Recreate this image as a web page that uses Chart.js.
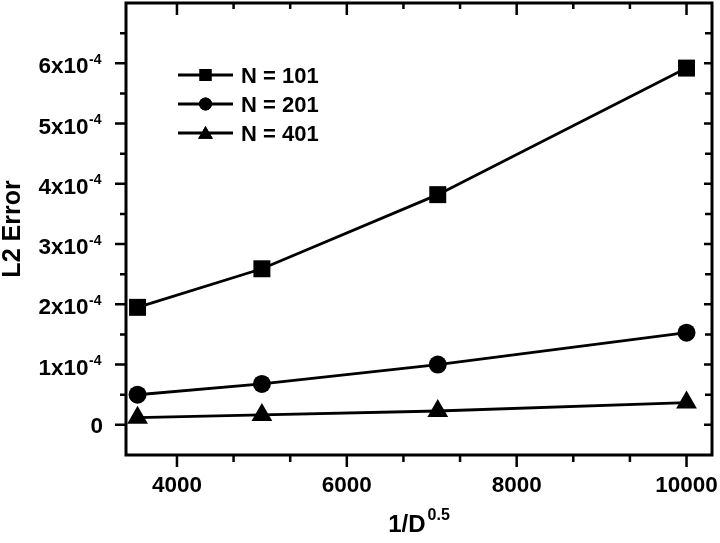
<!DOCTYPE html>
<html>
<head>
<meta charset="utf-8">
<script src="https://cdn.jsdelivr.net/npm/chart.js@4/dist/chart.umd.min.js"></script>
<style>
  html, body { margin: 0; padding: 0; background: #fff; }
  #wrap { width: 720px; height: 543px; }
</style>
</head>
<body>
<div id="wrap"><canvas id="err-chart" width="720" height="543"></canvas></div>
<script>
// 1/D^0.5 values (D = 8e-8, 4e-8, 2e-8, 1e-8)
var xValues = [3536, 5000, 7071, 10000];

// L2 error for each grid size
var seriesNames = ["N = 101", "N = 201", "N = 401"];
var errN101 = [1.95e-4, 2.59e-4, 3.82e-4, 5.92e-4];
var errN201 = [0.50e-4, 0.68e-4, 1.00e-4, 1.53e-4];
var errN401 = [0.12e-4, 0.165e-4, 0.23e-4, 0.37e-4];

// axis ticks
var xTickValues = [4000, 6000, 8000, 10000];
var yTickValues = [0, 1e-4, 2e-4, 3e-4, 4e-4, 5e-4, 6e-4];
var yTickBase = ["0", "1x10", "2x10", "3x10", "4x10", "5x10", "6x10"];
var yTickExp = ["", "-4", "-4", "-4", "-4", "-4", "-4"];

var FONT = '"Liberation Sans", Arial, Helvetica, sans-serif';

function pts(ys) {
  var out = [];
  for (var i = 0; i < xValues.length; i++) out.push({ x: xValues[i], y: ys[i] });
  return out;
}

var styles = [
  { shape: "rect", r: 12, lr: 8.5 },
  { shape: "circle", r: 9, lr: 6.5 },
  { shape: "triangle", r: 12, lr: 8.5 }
];

var allSeries = [errN101, errN201, errN401];
var datasets = [];
for (var s = 0; s < allSeries.length; s++) {
  datasets.push({
    label: seriesNames[s],
    data: pts(allSeries[s]),
    borderColor: "#000",
    backgroundColor: "#000",
    borderWidth: 2.8,
    pointStyle: styles[s].shape,
    pointRadius: styles[s].r,
    pointHoverRadius: styles[s].r,
    pointBorderWidth: 0,
    tension: 0,
    clip: false
  });
}

function marker(ctx, shape, r, x, y) {
  if (Chart.helpers && Chart.helpers.drawPoint) {
    Chart.helpers.drawPoint(ctx, { pointStyle: shape, radius: r, borderWidth: 0, rotation: 0 }, x, y);
    ctx.fill();
  }
}

function noPad(scale) {
  scale.paddingLeft = 0; scale.paddingRight = 0;
  scale.paddingTop = 0; scale.paddingBottom = 0;
}

// frame, tick marks, y labels, titles and legend
var decor = {
  id: "decor",
  beforeDatasetsDraw: function (chart) {
    var ctx = chart.ctx, a = chart.chartArea;
    var xs = chart.scales.x, ys = chart.scales.y;
    ctx.save();
    ctx.strokeStyle = "#000";
    ctx.lineWidth = 3;
    ctx.strokeRect(a.left, a.top, a.right - a.left, a.bottom - a.top);
    ctx.lineWidth = 2.5;
    ctx.beginPath();
    var v, p, k;
    // x ticks: major every 2000, two minors between
    for (k = 0; k <= 30; k++) {
      v = 2000 + k * 2000 / 3;
      if (v < xs.min || v > xs.max) continue;
      p = xs.getPixelForValue(v);
      var major = (k % 3 === 0);
      ctx.moveTo(p, a.bottom); ctx.lineTo(p, a.bottom + (major ? 12 : 7));
      ctx.moveTo(p, a.top); ctx.lineTo(p, a.top + (major ? 12 : 6));
    }
    // y ticks: major every 1e-4, one minor between
    for (k = -1; k <= 14; k++) {
      v = k * 0.5e-4;
      if (v <= ys.min || v >= ys.max) continue;
      p = ys.getPixelForValue(v);
      var maj = (k % 2 === 0);
      ctx.moveTo(a.left, p); ctx.lineTo(a.left - (maj ? 11 : 6), p);
      ctx.moveTo(a.right, p); ctx.lineTo(a.right - (maj ? 8 : 7), p);
    }
    ctx.stroke();

    // y tick labels with superscript
    ctx.fillStyle = "#000";
    ctx.textBaseline = "alphabetic";
    ctx.textAlign = "left";
    for (var i = 0; i < yTickValues.length; i++) {
      p = ys.getPixelForValue(yTickValues[i]);
      ctx.font = "bold 14px " + FONT;
      var ew = yTickExp[i] ? ctx.measureText(yTickExp[i]).width : 0;
      ctx.font = "bold 22.5px " + FONT;
      var bw = ctx.measureText(yTickBase[i]).width;
      var right = yTickExp[i] ? 101 : 103;
      var bx = right - ew - bw;
      var by = yTickExp[i] ? p + 10 : p + 8;
      ctx.fillText(yTickBase[i], bx, by);
      if (yTickExp[i]) {
        ctx.font = "bold 14px " + FONT;
        ctx.fillText(yTickExp[i], bx + bw + 0.5, p + 0.5);
      }
    }

    // x title 1/D^0.5
    ctx.font = "bold 24px " + FONT;
    var t1 = "1/D", t1w = ctx.measureText(t1).width;
    ctx.font = "bold 16px " + FONT;
    var t2 = "0.5", t2w = ctx.measureText(t2).width;
    var cx = (a.left + a.right) / 2;
    var sx = cx - (t1w + t2w + 2) / 2;
    ctx.font = "bold 24px " + FONT;
    ctx.fillText(t1, sx, 532);
    ctx.font = "bold 16px " + FONT;
    ctx.fillText(t2, sx + t1w + 2, 520);

    // y title
    ctx.save();
    ctx.translate(20, (a.top + a.bottom) / 2);
    ctx.rotate(-Math.PI / 2);
    ctx.textAlign = "center";
    ctx.font = "bold 25px " + FONT;
    ctx.fillText("L2 Error", 0, 0);
    ctx.restore();

    // legend
    var rowsY = [75, 104, 133];
    for (var j = 0; j < chart.data.datasets.length; j++) {
      var ly = rowsY[j];
      ctx.lineWidth = 2.8;
      ctx.beginPath();
      ctx.moveTo(178, ly); ctx.lineTo(233, ly);
      ctx.stroke();
      marker(ctx, styles[j].shape, styles[j].lr, 205.5, ly + (styles[j].shape === "triangle" ? 1.5 : 0));
      ctx.font = "bold 22px " + FONT;
      ctx.textAlign = "left";
      ctx.fillText(chart.data.datasets[j].label, 241, ly + 7.5);
    }
    ctx.restore();
  }
};

new Chart(document.getElementById("err-chart"), {
  type: "line",
  data: { datasets: datasets },
  options: {
    responsive: false,
    animation: false,
    events: [],
    layout: { autoPadding: false, padding: { left: 0, right: 8, top: 3, bottom: 0 } },
    plugins: { legend: { display: false }, tooltip: { enabled: false } },
    scales: {
      x: {
        type: "linear",
        min: 3400,
        max: 10300,
        grid: { display: false, drawTicks: false },
        border: { display: false },
        afterBuildTicks: function (scale) {
          scale.ticks = xTickValues.map(function (v) { return { value: v }; });
        },
        afterFit: function (scale) { scale.height = 88; noPad(scale); },
        ticks: {
          color: "#000",
          padding: 17,
          maxRotation: 0,
          autoSkip: false,
          font: { family: FONT, size: 22.5, weight: "bold" },
          callback: function (v) { return String(v); }
        }
      },
      y: {
        type: "linear",
        min: -0.5e-4,
        max: 7e-4,
        grid: { display: false, drawTicks: false },
        border: { display: false },
        afterBuildTicks: function (scale) {
          scale.ticks = yTickValues.map(function (v) { return { value: v }; });
        },
        afterFit: function (scale) { scale.width = 126; noPad(scale); },
        ticks: { display: false }
      }
    }
  },
  plugins: [decor]
});
</script>
</body>
</html>
